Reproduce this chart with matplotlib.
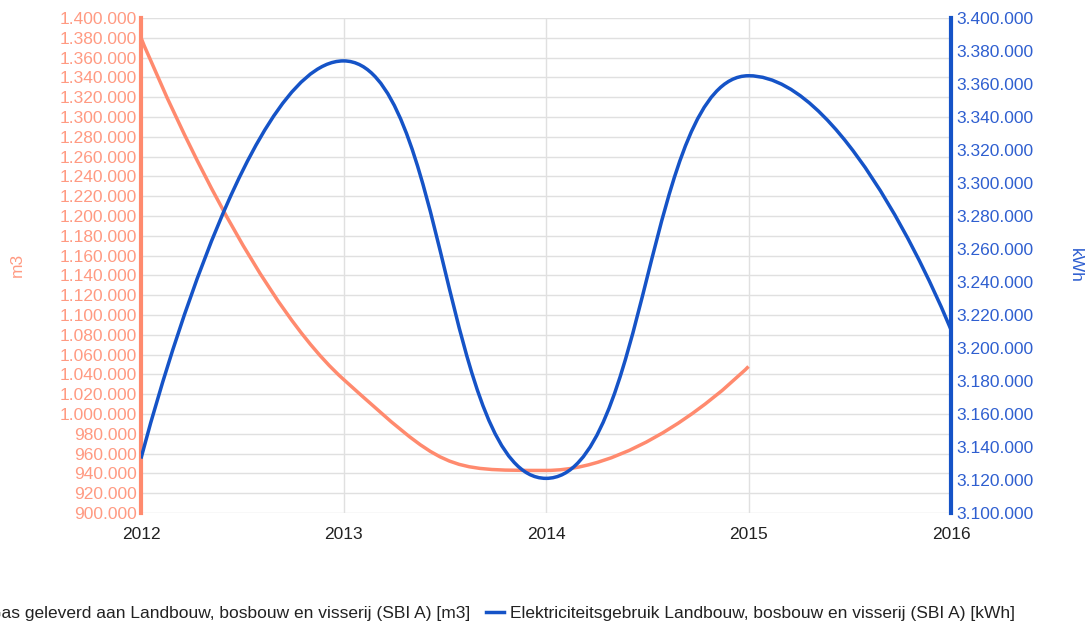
import numpy as np
import matplotlib.pyplot as plt
from matplotlib.path import Path
from matplotlib.patches import PathPatch
from matplotlib.lines import Line2D
from matplotlib.ticker import FuncFormatter

plt.rcParams['font.family'] = ['Liberation Sans', 'DejaVu Sans']

# data ------------------------------
years = [2012, 2013, 2014, 2015, 2016]
gas_years = [2012, 2013, 2014, 2015]
gas = [1380000, 1035000, 943000, 1048000]
elec = [3133000, 3374000, 3121000, 3365000, 3211000]
gas_label = 'Gas geleverd aan Landbouw, bosbouw en visserij (SBI A) [m3]'
elec_label = 'Elektriciteitsgebruik Landbouw, bosbouw en visserij (SBI A) [kWh]'

orange = '#ff8a6e'
orange_txt = '#ff9a82'
blue = '#1553c7'
blue_txt = '#2f5fd0'
grid_c = '#e0e0e0'
fs = 12.5


def smooth_path(x, y, k=0.5):
	# bezier curve through the points; flat at peaks/valleys, no overshoot
	x = np.asarray(x, float)
	y = np.asarray(y, float)
	n = len(x)
	t = np.zeros(n)
	for i in range(1, n - 1):
		d0 = y[i] - y[i - 1]
		d1 = y[i + 1] - y[i]
		if d0 * d1 <= 0:
			continue
		s = (y[i + 1] - y[i - 1]) / (x[i + 1] - x[i - 1])
		lim = min(abs(d0) / (k * (x[i] - x[i - 1])), abs(d1) / (k * (x[i + 1] - x[i])))
		t[i] = np.sign(s) * min(abs(s), lim)
	verts = [(x[0], y[0])]
	codes = [Path.MOVETO]
	for i in range(n - 1):
		dx = (x[i + 1] - x[i]) * k
		c1 = (x[i] + dx, y[i] + t[i] * dx) if i > 0 else (x[i], y[i])
		c2 = (x[i + 1] - dx, y[i + 1] - t[i + 1] * dx) if i + 1 < n - 1 else (x[i + 1], y[i + 1])
		verts += [c1, c2, (x[i + 1], y[i + 1])]
		codes += [Path.CURVE4] * 3
	return Path(verts, codes)


def dots(v, pos):
	return f'{int(v):,}'.replace(',', '.')


fig = plt.figure(figsize=(10.85, 6.25), dpi=100)
ax = fig.add_axes([141 / 1085, 112 / 625, 810 / 1085, 495 / 625])
ax2 = ax.twinx()

ax.set_xlim(2012, 2016)
ax.set_ylim(900000, 1400000)
ax2.set_ylim(3100000, 3400000)
ax.set_xticks(years)
ax.set_yticks(np.arange(900000, 1400001, 20000))
ax2.set_yticks(np.arange(3100000, 3400001, 20000))
ax.yaxis.set_major_formatter(FuncFormatter(dots))
ax2.yaxis.set_major_formatter(FuncFormatter(dots))

ax.grid(True, color=grid_c, linewidth=1)
ax.set_axisbelow(True)
for a in (ax, ax2):
	for s in a.spines.values():
		s.set_visible(False)
	a.tick_params(length=0)
ax.spines['left'].set_visible(True)
ax.spines['left'].set_color(orange)
ax.spines['left'].set_linewidth(3)
ax2.spines['right'].set_visible(True)
ax2.spines['right'].set_color(blue)
ax2.spines['right'].set_linewidth(3)

ax.tick_params(axis='y', colors=orange_txt, labelsize=fs, pad=3)
ax2.tick_params(axis='y', colors=blue_txt, labelsize=fs, pad=4)
ax.tick_params(axis='x', colors='#222222', labelsize=fs, pad=10)

ax.add_patch(PathPatch(smooth_path(gas_years, gas), fill=False, edgecolor=orange, linewidth=2.5, zorder=3))
ax2.add_patch(PathPatch(smooth_path(years, elec), fill=False, edgecolor=blue, linewidth=2.5, zorder=3))

fig.text(17 / 1085, 1 - 265 / 625, 'm3', rotation=90, color=orange_txt, fontsize=fs, ha='center', va='center')
fig.text(1075 / 1085, 1 - 265 / 625, 'kWh', rotation=-90, color=blue_txt, fontsize=fs, ha='center', va='center')

handles = [Line2D([], [], color=orange, linewidth=2.5), Line2D([], [], color=blue, linewidth=2.5)]
fig.legend(handles, [gas_label, elec_label], loc='center left', bbox_to_anchor=(-36 / 1085, 1 - 613 / 625),
	ncol=2, frameon=False, fontsize=fs, handlelength=1.05, handletextpad=0.35, columnspacing=0.9,
	labelcolor='#222222', borderaxespad=0, borderpad=0)

fig.savefig('out.png', dpi=100)
